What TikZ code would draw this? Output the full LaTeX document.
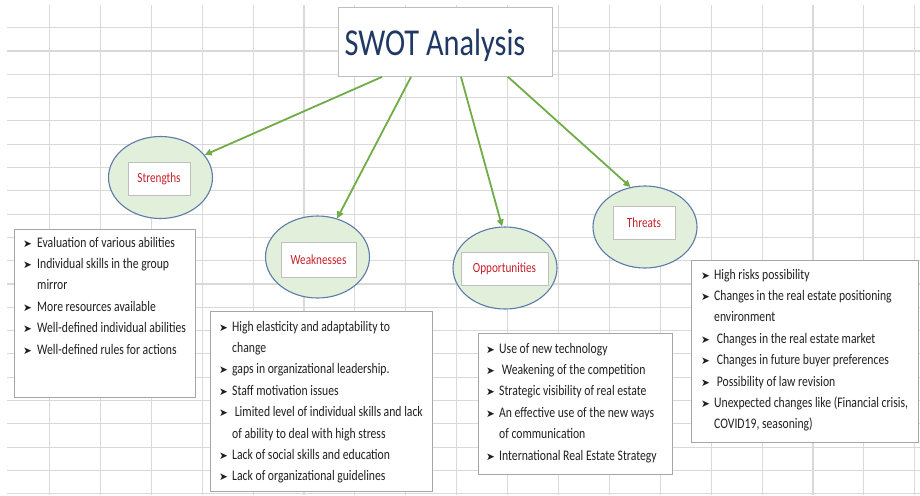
\documentclass[tikz,border=0pt]{standalone}
\usepackage{fontspec}
\setmainfont{Carlito}[FakeStretch=0.8]
\newfontfamily\symfont{DejaVu Sans}
\usetikzlibrary{shapes.geometric,arrows.meta}
\definecolor{gridgray}{HTML}{D9D9D9}
\definecolor{titleblue}{HTML}{203864}
\definecolor{framegray}{HTML}{BFBFBF}
\definecolor{boxgray}{HTML}{A6A6A6}
\definecolor{bubblefill}{HTML}{E2EFDA}
\definecolor{bubbleedge}{HTML}{5B7BA8}
\definecolor{tagred}{HTML}{C8202A}
\definecolor{linkgreen}{HTML}{70AD47}
\definecolor{listgray}{HTML}{202020}
\newcommand{\bul}{{\symfont\fontsize{10.5}{10}\selectfont ➤}}

\begin{document}
\begin{tikzpicture}[x=1pt,y=-1pt,
  gridline/.style={draw=gridgray,line width=1.1pt},
  bubble/.style={ellipse,draw=bubbleedge,fill=bubblefill,line width=1.1pt,
    minimum width=104pt,minimum height=82pt},
  tag/.style={rectangle,draw=framegray,fill=white,text=tagred,inner sep=0pt,
    minimum height=33pt,font=\fontsize{14}{16}\selectfont},
  link/.style={draw=linkgreen,line width=1.8pt,-{Triangle[length=7pt,width=6.5pt]}},
  listbox/.style={rectangle,draw=boxgray,fill=white,line width=0.8pt,
    anchor=north west,inner sep=0pt},
  listtext/.style={anchor=base west,inner sep=0pt,text=listgray,
    font=\fontsize{14.6}{21.4}\selectfont}]
\useasboundingbox[fill=white] (0,0) rectangle (920,495);
% sheet grid
\foreach \i in {0,...,17}
  \draw[gridline] ({49.5+50.9*\i},5) -- ({49.5+50.9*\i},495);
\foreach \j in {0,...,20}
  \draw[gridline] (7,{27.7+23.3*\j}) -- (920,{27.7+23.3*\j});
% heading
\node[rectangle,draw=framegray,fill=white,line width=0.8pt,
  minimum width=214pt,minimum height=69pt] (title) at (445,42) {};
\node[text=titleblue,font=\fontsize{38}{40}\selectfont] (titletext) at (435,45) {SWOT Analysis};
% the four bubbles
\node[bubble] (str) at (160.5,177.5) {};
\node[bubble] (wea) at (317.5,257) {};
\node[bubble] (opp) at (505,268) {};
\node[bubble] (thr) at (645,227) {};
\node[tag,minimum width=62pt] (strtag) at (159,178.5) {Strengths};
\node[tag,minimum width=75pt,minimum height=35pt] (weatag) at (318.5,259.5) {Weaknesses};
\node[tag,minimum width=87pt] (opptag) at (504.5,268.5) {Opportunities};
\node[tag,minimum width=62pt] (thrtag) at (644,222.5) {Threats};
% arrows
\draw[link] ([xshift=-63pt]title.south) -- (str.27);
\draw[link] ([xshift=-34pt]title.south) -- (wea.63);
\draw[link] ([xshift=16pt]title.south) -- (opp.94);
\draw[link] ([xshift=63pt]title.south) -- (thr.110);
% lists
\node[listbox,minimum width=181pt,minimum height=168pt] (strbox) at (14,229) {};
\node[listtext] (strlist) at (23,247) {\begin{tabular}[t]{@{}p{14pt}@{}l@{}}
  \bul & Evaluation of various abilities\\
  \bul & Individual skills in the group\\
       & mirror\\
  \bul & More resources available\\
  \bul & Well-defined individual abilities\\
  \bul & Well-defined rules for actions
\end{tabular}};
\node[listbox,minimum width=222pt,minimum height=180pt] (weabox) at (210,311) {};
\node[listtext] (wealist) at (219,331) {\begin{tabular}[t]{@{}p{13pt}@{}l@{}}
  \bul & High elasticity and adaptability to\\
       & change\\
  \bul & gaps in organizational leadership.\\
  \bul & Staff motivation issues\\
  \bul & \ Limited level of individual skills and lack\\
       & of ability to deal with high stress\\
  \bul & Lack of social skills and education\\
  \bul & Lack of organizational guidelines
\end{tabular}};
\node[listbox,minimum width=194pt,minimum height=141pt] (oppbox) at (478,333) {};
\node[listtext] (opplist) at (486,353) {\begin{tabular}[t]{@{}p{13pt}@{}l@{}}
  \bul & Use of new technology\\
  \bul & \ Weakening of the competition\\
  \bul & Strategic visibility of real estate\\
  \bul & An effective use of the new ways\\
       & of communication\\
  \bul & International Real Estate Strategy
\end{tabular}};
\node[listbox,minimum width=227pt,minimum height=182pt] (thrbox) at (691,260) {};
\node[listtext] (thrlist) at (701,279) {\begin{tabular}[t]{@{}p{13pt}@{}l@{}}
  \bul & High risks possibility\\
  \bul & Changes in the real estate positioning\\
       & environment\\
  \bul & \ Changes in the real estate market\\
  \bul & \ Changes in future buyer preferences\\
  \bul & \ Possibility of law revision\\
  \bul & Unexpected changes like (Financial crisis,\\
       & COVID19, seasoning)
\end{tabular}};
\end{tikzpicture}
\end{document}
